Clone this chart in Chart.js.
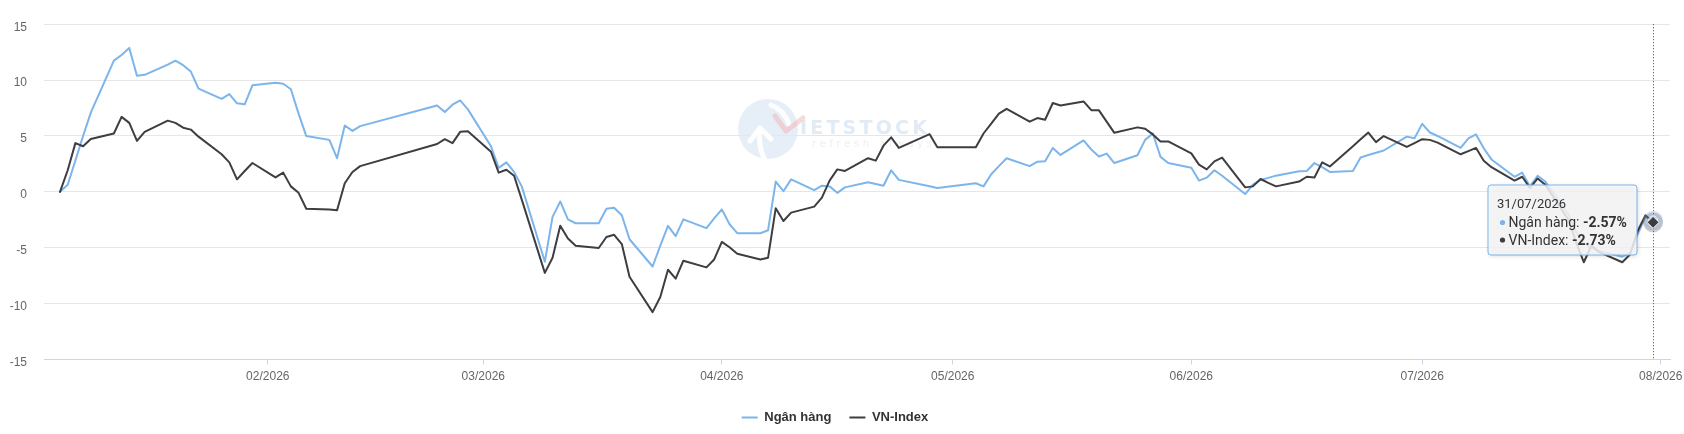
<!DOCTYPE html>
<html>
<head>
<meta charset="utf-8">
<script src="https://cdn.jsdelivr.net/npm/chart.js@4.4.1/dist/chart.umd.min.js"></script>
<style>
html,body{margin:0;padding:0;background:#fff;}
#wrap{width:1684px;height:434px;position:relative;}
</style>
</head>
<body>
<div id="wrap"><canvas id="c" width="1684" height="434"></canvas></div>
<script>
const YEAR = 2026;
const seriesNames = ['Ngân hàng', 'VN-Index'];
const seriesColors = ['#7cb5ec', '#3d3d42'];
const monthTicks = ['02/2026', '03/2026', '04/2026', '05/2026', '06/2026', '07/2026', '08/2026'];
const yTicks = [-15, -10, -5, 0, 5, 10, 15];

const dates = [
  '01-05','01-06','01-07','01-08','01-09',
  '01-12','01-13','01-14','01-15','01-16',
  '01-19','01-20','01-21','01-22','01-23',
  '01-26','01-27','01-28','01-29','01-30',
  '02-02','02-03','02-04','02-05','02-06',
  '02-09','02-10','02-11','02-12','02-13',
  '02-23','02-24','02-25','02-26','02-27',
  '03-02','03-03','03-04','03-05','03-06',
  '03-09','03-10','03-11','03-12','03-13',
  '03-16','03-17','03-18','03-19','03-20',
  '03-23','03-24','03-25','03-26','03-27',
  '03-30','03-31','04-01','04-02','04-03',
  '04-06','04-07','04-08','04-09','04-10',
  '04-13','04-14','04-15','04-16','04-17',
  '04-20','04-21','04-22','04-23','04-24',
  '04-28','04-29',
  '05-04','05-05','05-06','05-07','05-08',
  '05-11','05-12','05-13','05-14','05-15',
  '05-18','05-19','05-20','05-21','05-22',
  '05-25','05-26','05-27','05-28','05-29',
  '06-01','06-02','06-03','06-04','06-05',
  '06-08','06-09','06-10','06-11','06-12',
  '06-15','06-16','06-17','06-18','06-19',
  '06-22','06-23','06-24','06-25','06-26',
  '06-29','06-30','07-01','07-02','07-03',
  '07-06','07-07','07-08','07-09','07-10',
  '07-13','07-14','07-15','07-16','07-17',
  '07-20','07-21','07-22','07-23','07-24',
  '07-27','07-28','07-29','07-30','07-31'
];

const nganHang = [
  0, 0.63, 2.8, 5.0, 7.09,
  11.74, 12.25, 12.88, 10.39, 10.47,
  11.39, 11.74, 11.33, 10.76, 9.24,
  8.32, 8.75, 7.92, 7.83, 9.53,
  9.76, 9.67, 9.18, 7.0, 4.99,
  4.65, 3.01, 5.94, 5.45, 5.88,
  7.72, 7.14, 7.8, 8.18, 7.38,
  4.08, 2.15, 2.64, 1.78, 0.49,
  -6.25, -2.24, -0.86, -2.46, -2.81,
  -2.81, -1.51, -1.43, -2.09, -4.24,
  -6.68, -4.82, -3.04, -3.96, -2.46,
  -3.24, -2.38, -1.57, -2.9, -3.7,
  -3.7, -3.44, 0.92, 0.06, 1.12,
  0.15, 0.55, 0.49, -0.09, 0.4,
  0.86, 0.7, 0.55, 1.93, 1.07,
  0.5, 0.34,
  0.77, 0.49, 1.58, 2.3, 3.01,
  2.3, 2.7, 2.73, 3.93, 3.3,
  4.6, 3.79, 3.16, 3.42, 2.58,
  3.27, 4.65, 5.22, 3.13, 2.58,
  2.15, 1.01, 1.27, 1.93, 1.44,
  -0.2, 0.64, 1.07, 1.25, 1.45,
  1.84, 1.87, 2.58, 2.21, 1.78,
  1.87, 3.07, 3.3, 3.5, 3.7,
  4.94, 4.79, 6.08, 5.31, 5.0,
  3.93, 4.79, 5.14, 3.9, 2.9,
  1.35, 1.72, 0.49, 1.44, 0.92,
  -2.0, -3.6, -4.6, -5.0, -5.3,
  -5.8, -5.5, -3.8, -2.24, -2.57
];

const vnIndex = [
  0, 1.93, 4.36, 4.08, 4.73,
  5.22, 6.71, 6.17, 4.56, 5.37,
  6.37, 6.17, 5.74, 5.57, 4.94,
  3.36, 2.64, 1.12, 1.87, 2.58,
  1.29, 1.72, 0.49, -0.09, -1.51,
  -1.58, -1.64, 0.77, 1.78, 2.3,
  4.28, 4.71, 4.36, 5.37, 5.42,
  3.59, 1.72, 1.98, 1.44, -0.7,
  -7.25, -5.9, -3.04, -4.18, -4.82,
  -5.02, -4.04, -3.84, -4.67, -7.6,
  -10.76, -9.41, -6.97, -7.77, -6.16,
  -6.76, -6.05, -4.48, -4.96, -5.53,
  -6.05, -5.9, -1.46, -2.61, -1.86,
  -1.32, -0.52, 1.01, 2.01, 1.87,
  3.01, 2.79, 4.13, 4.88, 3.93,
  5.16, 3.99,
  3.99, 5.22, 6.1, 7.0, 7.43,
  6.28, 6.6, 6.45, 7.95, 7.72,
  8.09, 7.31, 7.29, 6.28, 5.28,
  5.77, 5.65, 5.14, 4.51, 4.51,
  3.44, 2.44, 2.01, 2.73, 3.07,
  0.4, 0.49, 1.15, 0.8, 0.49,
  0.92, 1.35, 1.29, 2.64, 2.27,
  4.08, 4.71, 5.31, 4.45, 4.99,
  4.02, 4.36, 4.71, 4.65, 4.4,
  3.36, 3.65, 3.93, 2.79, 2.21,
  1.01, 1.35, 0.34, 1.2, 0.64,
  -2.5, -4.5, -6.3, -4.8, -5.4,
  -6.3, -5.6, -3.5, -2.1, -2.73
];

// ---- helpers: date strings -> day-of-year numbers for a linear x scale
const DAY = 86400000;
const jan1 = Date.UTC(YEAR, 0, 1);
function dayOf(md) {
  const [m, d] = md.split('-').map(Number);
  return (Date.UTC(YEAR, m - 1, d) - jan1) / DAY;
}
function monthLabelDay(lbl) {
  const [m, y] = lbl.split('/').map(Number);
  return (Date.UTC(y, m - 1, 1) - jan1) / DAY;
}
const monthTickDays = monthTicks.map(monthLabelDay);
const xs = dates.map(dayOf);
const toPoints = arr => arr.map((v, i) => ({ x: xs[i], y: v }));
function fmtDate(md) {
  const [m, d] = md.split('-');
  return d + '/' + m + '/' + YEAR;
}
function fmtVal(v) { return v.toFixed(2) + '%'; }

Chart.defaults.font.family = '"Liberation Sans", Arial, sans-serif';

function drawWatermark(ctx) {
  ctx.save();
  // disc
  ctx.beginPath();
  ctx.arc(768, 129, 30, 0, Math.PI * 2);
  ctx.fillStyle = 'rgba(222,233,245,0.75)';
  ctx.fill();
  // white arrow (chevron + curved shaft)
  ctx.strokeStyle = 'rgba(255,255,255,0.95)';
  ctx.lineWidth = 5;
  ctx.lineCap = 'round';
  ctx.lineJoin = 'round';
  ctx.beginPath();
  ctx.moveTo(750, 141);
  ctx.lineTo(760, 128);
  ctx.lineTo(771, 139);
  ctx.stroke();
  ctx.beginPath();
  ctx.moveTo(760, 129);
  ctx.quadraticCurveTo(758, 146, 764, 158);
  ctx.stroke();
  // white curved band top-right
  ctx.beginPath();
  ctx.moveTo(771, 105);
  ctx.quadraticCurveTo(784, 110, 789, 124);
  ctx.stroke();
  // red check swoosh
  ctx.strokeStyle = 'rgba(244,170,170,0.45)';
  ctx.lineWidth = 5;
  ctx.beginPath();
  ctx.moveTo(775, 116);
  ctx.lineTo(786, 131);
  ctx.lineTo(803, 118);
  ctx.stroke();
  // text
  ctx.font = 'bold 19px "DejaVu Sans", sans-serif';
  ctx.textBaseline = 'alphabetic';
  ctx.fillStyle = 'rgba(196,216,238,0.5)';
  const word = 'IETSTOCK';
  let wx = 800;
  for (const ch of word) {
    ctx.fillText(ch, wx, 134);
    wx += ctx.measureText(ch).width + 3.2;
  }
  ctx.font = '10px "DejaVu Sans", sans-serif';
  ctx.fillStyle = 'rgba(200,208,218,0.35)';
  let sx = 812;
  for (const ch of 'refresh always') {
    ctx.fillText(ch, sx, 147);
    sx += ctx.measureText(ch).width + 3.6;
  }
  ctx.restore();
}

const overlay = {
  id: 'overlay',
  beforeDatasetsDraw(chart) {
    const ctx = chart.ctx;
    const a = chart.chartArea;
    drawWatermark(ctx);
    // crosshair at last point
    const last = dates.length - 1;
    const p = chart.getDatasetMeta(1).data[last];
    ctx.save();
    ctx.strokeStyle = '#2c4f7c';
    ctx.lineWidth = 1;
    ctx.setLineDash([1, 2]);
    const cx = Math.round(p.x) + 0.5;
    ctx.beginPath();
    ctx.moveTo(cx, a.top);
    ctx.lineTo(cx, a.bottom);
    ctx.stroke();
    ctx.restore();
  },
  afterDatasetsDraw(chart) {
    const ctx = chart.ctx;
    const last = dates.length - 1;
    const pB = chart.getDatasetMeta(0).data[last];
    const pK = chart.getDatasetMeta(1).data[last];
    ctx.save();
    ctx.beginPath();
    ctx.arc(pB.x, pB.y, 10, 0, Math.PI * 2);
    ctx.fillStyle = 'rgba(124,181,236,0.25)';
    ctx.fill();
    ctx.beginPath();
    ctx.arc(pK.x, pK.y, 10, 0, Math.PI * 2);
    ctx.fillStyle = 'rgba(67,67,72,0.25)';
    ctx.fill();
    ctx.beginPath();
    ctx.arc(pB.x, pB.y, 4.5, 0, Math.PI * 2);
    ctx.fillStyle = seriesColors[0];
    ctx.fill();
    ctx.strokeStyle = '#fff';
    ctx.lineWidth = 1;
    ctx.stroke();
    const r = 6;
    ctx.beginPath();
    ctx.moveTo(pK.x, pK.y - r);
    ctx.lineTo(pK.x + r, pK.y);
    ctx.lineTo(pK.x, pK.y + r);
    ctx.lineTo(pK.x - r, pK.y);
    ctx.closePath();
    ctx.fillStyle = seriesColors[1];
    ctx.fill();
    ctx.strokeStyle = '#fff';
    ctx.stroke();
    ctx.restore();
  },
  afterDraw(chart) {
    const ctx = chart.ctx;
    const last = dates.length - 1;
    const pK = chart.getDatasetMeta(1).data[last];
    const title = fmtDate(dates[last]);
    const rows = [
      { c: seriesColors[0], name: seriesNames[0], v: nganHang[last] },
      { c: seriesColors[1], name: seriesNames[1], v: vnIndex[last] }
    ];
    const fTitle = '13px Roboto, "Liberation Sans", sans-serif';
    const fBody = '14px Roboto, "Liberation Sans", sans-serif';
    const fBold = 'bold 14px Roboto, "Liberation Sans", sans-serif';
    ctx.save();
    ctx.font = fTitle;
    let w = ctx.measureText(title).width;
    rows.forEach(r => {
      ctx.font = fBody;
      r.a = ctx.measureText(r.name + ': ').width;
      ctx.font = fBold;
      r.b = ctx.measureText(fmtVal(r.v)).width;
      w = Math.max(w, 12 + r.a + r.b);
    });
    const boxW = Math.round(w + 19);
    const boxH = 70;
    const right = Math.round(pK.x) - 16;
    const left = right - boxW;
    const top = Math.round(pK.y) - 37;
    const rr = 3;
    function path() {
      ctx.beginPath();
      ctx.moveTo(left + rr, top);
      ctx.lineTo(left + boxW - rr, top);
      ctx.arcTo(left + boxW, top, left + boxW, top + rr, rr);
      ctx.lineTo(left + boxW, top + boxH - rr);
      ctx.arcTo(left + boxW, top + boxH, left + boxW - rr, top + boxH, rr);
      ctx.lineTo(left + rr, top + boxH);
      ctx.arcTo(left, top + boxH, left, top + boxH - rr, rr);
      ctx.lineTo(left, top + rr);
      ctx.arcTo(left, top, left + rr, top, rr);
      ctx.closePath();
    }
    ctx.shadowColor = 'rgba(0,0,0,0.18)';
    ctx.shadowOffsetX = 1;
    ctx.shadowOffsetY = 1;
    ctx.shadowBlur = 4;
    path();
    ctx.fillStyle = 'rgba(247,247,247,0.85)';
    ctx.fill();
    ctx.shadowColor = 'transparent';
    path();
    ctx.strokeStyle = '#7cb5ec';
    ctx.lineWidth = 1;
    ctx.translate(0.5, 0.5);
    ctx.stroke();
    ctx.translate(-0.5, -0.5);
    ctx.textBaseline = 'alphabetic';
    ctx.fillStyle = '#333';
    ctx.font = fTitle;
    ctx.fillText(title, left + 9, top + 23);
    const baselines = [top + 42, top + 59.5];
    rows.forEach((r, i) => {
      const by = baselines[i];
      ctx.beginPath();
      ctx.arc(left + 14.5, by - 4.5, 2.6, 0, Math.PI * 2);
      ctx.fillStyle = r.c;
      ctx.fill();
      ctx.fillStyle = '#333';
      ctx.font = fBody;
      ctx.fillText(r.name + ': ', left + 20.5, by);
      ctx.font = fBold;
      ctx.fillText(fmtVal(r.v), left + 20.5 + r.a, by);
    });
    ctx.restore();
  }
};

new Chart(document.getElementById('c'), {
  type: 'line',
  data: {
    datasets: [
      {
        label: seriesNames[0],
        data: toPoints(nganHang),
        borderColor: seriesColors[0],
        backgroundColor: seriesColors[0],
        borderWidth: 2,
        pointRadius: 0,
        pointHoverRadius: 0,
        tension: 0,
        fill: false,
        borderJoinStyle: 'round',
        borderCapStyle: 'round',
        order: 1
      },
      {
        label: seriesNames[1],
        data: toPoints(vnIndex),
        borderColor: seriesColors[1],
        backgroundColor: seriesColors[1],
        borderWidth: 2,
        pointRadius: 0,
        pointHoverRadius: 0,
        tension: 0,
        fill: false,
        borderJoinStyle: 'round',
        borderCapStyle: 'round',
        order: 0
      }
    ]
  },
  options: {
    responsive: false,
    animation: false,
    events: [],
    layout: { padding: { top: 10, right: 14, left: 0, bottom: 0 } },
    scales: {
      x: {
        type: 'linear',
        min: 1.92,
        max: 213.2,
        afterBuildTicks(s) { s.ticks = monthTickDays.map(v => ({ value: v })); },
        afterFit(s) { s.height = 33.5; s.paddingLeft = 0; s.paddingRight = 0; },
        ticks: {
          color: '#666',
          font: { size: 12 },
          padding: 5,
          maxRotation: 0,
          autoSkip: false,
          callback: (v, i) => monthTicks[i]
        },
        grid: { drawOnChartArea: false, drawTicks: true, tickLength: 5, color: '#ccd6eb' },
        border: { color: '#ccd6eb' }
      },
      y: {
        min: yTicks[0],
        max: yTicks[yTicks.length - 1],
        afterBuildTicks(s) { s.ticks = yTicks.map(v => ({ value: v })); },
        afterFit(s) { s.width = 44; },
        ticks: { color: '#666', font: { size: 12 }, padding: 17, labelOffset: 3 },
        grid: { color: '#e6e6e6', drawTicks: false, lineWidth: 1 },
        border: { display: false }
      }
    },
    plugins: {
      legend: {
        position: 'bottom',
        labels: {
          usePointStyle: true,
          pointStyle: 'line',
          pointStyleWidth: 16,
          color: '#333',
          font: { size: 13, weight: 'bold' },
          padding: 18,
          sort: (a, b) => a.datasetIndex - b.datasetIndex
        }
      },
      tooltip: { enabled: false }
    }
  },
  plugins: [overlay]
});
</script>
</body>
</html>
